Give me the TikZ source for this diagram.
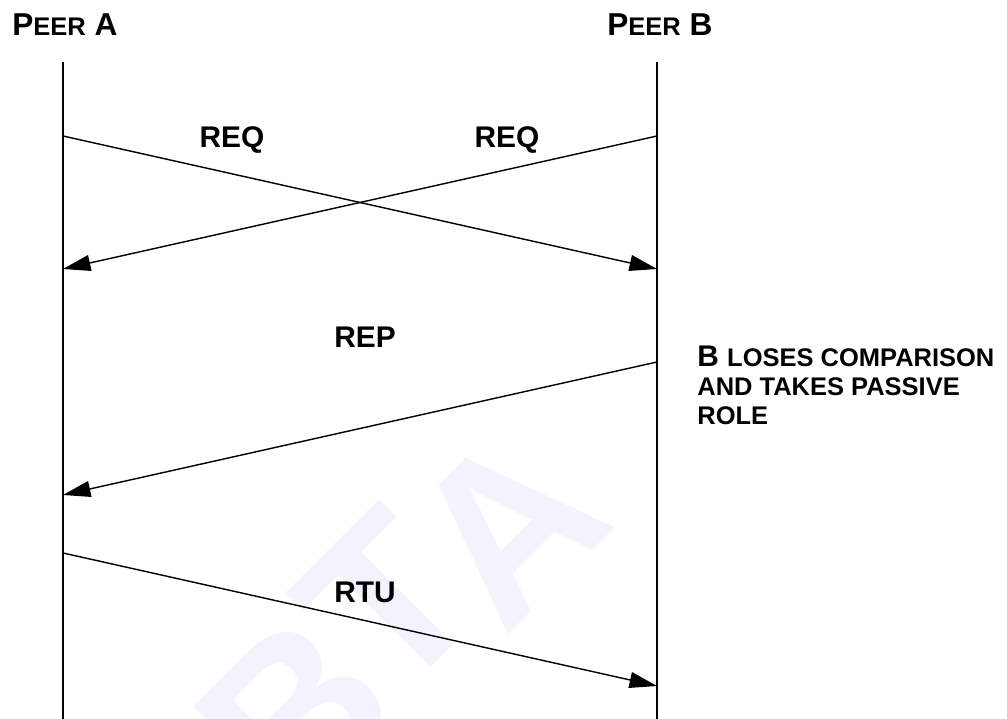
\documentclass[tikz,border=0pt]{standalone}
\usepackage{fontspec}
\setmainfont{Liberation Sans}
\usepackage{xcolor}
\usetikzlibrary{arrows.meta}

\definecolor{wmark}{RGB}{243,243,253}
\newcommand{\smc}[1]{{\fontsize{14.5}{16.5}\selectfont #1}}

\tikzset{
	lifeline/.style={line width=1.1pt},
	msg/.style={line width=0.8pt, -{Triangle[length=0.55cm,width=0.32cm]}},
	msglabel/.style={font=\fontsize{17}{20}\selectfont\bfseries, inner sep=0},
	peer/.style={font=\fontsize{18}{20}\selectfont\bfseries, inner sep=0, anchor=base west},
	wmletter/.style={text=wmark, font=\fontsize{128}{128}\selectfont\bfseries, rotate=45, inner sep=0},
}

\begin{document}
\begin{tikzpicture}
	
	\useasboundingbox (0,0) rectangle (20.14,14.38);
	
	% =========================================================
	% Watermark
	% =========================================================
	\node[wmletter] (wmB) at (5.9,0.1) {B};
	\node[wmletter] (wmT) at (7.75,2.35) {T};
	\node[wmletter] (wmA) at (10.15,3.85) {A};
	
	% =========================================================
	% Peers and lifelines
	% =========================================================
	\node[peer] (peerA) at (0.24,13.66) {P\smc{EER} A};
	\node[peer] (peerB) at (12.14,13.66) {P\smc{EER} B};
	
	\coordinate (Atop) at (1.26,13.14);
	\coordinate (Abot) at (1.26,0);
	\coordinate (Btop) at (13.14,13.14);
	\coordinate (Bbot) at (13.14,0);
	
	\draw[lifeline] (Atop) -- (Abot);
	\draw[lifeline] (Btop) -- (Bbot);
	
	% Message end points on the lifelines
	\coordinate (A1) at (1.26,11.66);
	\coordinate (A2) at (1.26,9.0);
	\coordinate (A3) at (1.26,4.48);
	\coordinate (A4) at (1.26,3.32);
	\coordinate (B1) at (13.14,11.66);
	\coordinate (B2) at (13.14,9.0);
	\coordinate (B3) at (13.14,7.14);
	\coordinate (B4) at (13.14,0.66);
	
	% =========================================================
	% Messages
	% =========================================================
	% crossing requests
	\draw[msg] (A1) -- (B2);
	\draw[msg] (B1) -- (A2);
	\node[msglabel] (reqA) at (4.64,11.58) {REQ};
	\node[msglabel] (reqB) at (10.14,11.58) {REQ};
	
	% reply
	\draw[msg] (B3) -- (A3);
	\node[msglabel] (rep) at (7.3,7.64) {REP};
	
	% ready to use
	\draw[msg] (A4) -- (B4);
	\node[msglabel] (rtu) at (7.3,2.54) {RTU};
	
	% Note
	\node[anchor=north west, inner sep=0, align=left,
	font=\fontsize{17}{16.5}\selectfont\bfseries] (note) at (13.94,7.46)
	{B \smc{LOSES COMPARISON}\\ \smc{AND TAKES PASSIVE}\\ \smc{ROLE}};
	
\end{tikzpicture}
\end{document}
